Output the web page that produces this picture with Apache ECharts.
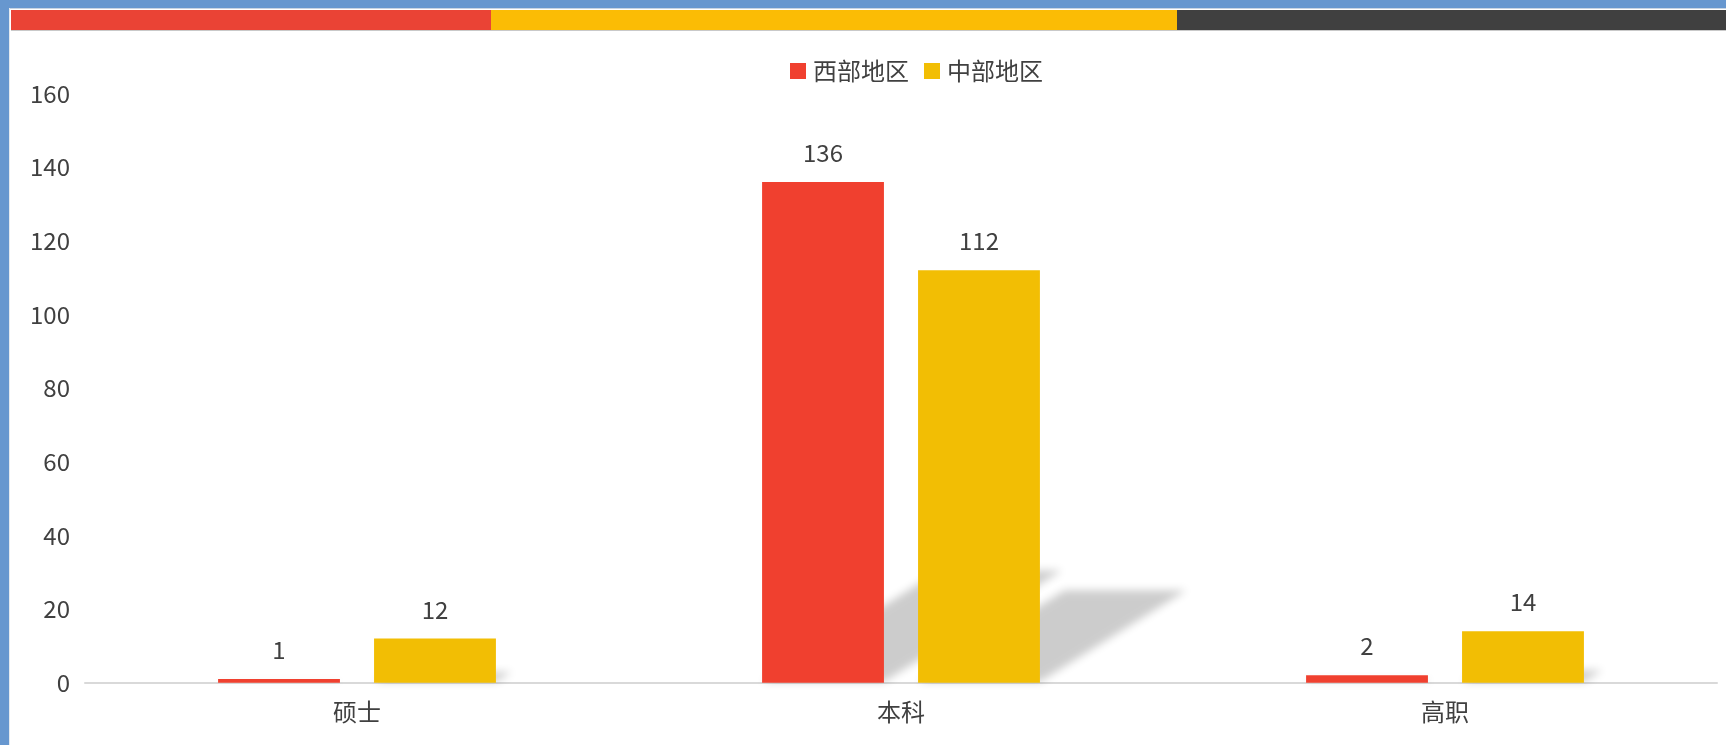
<!DOCTYPE html>
<html>
<head>
<meta charset="utf-8">
<script src="https://cdn.jsdelivr.net/npm/echarts@6/dist/echarts.min.js"></script>
<style>
html,body{margin:0;padding:0;background:#6797cf;}
#chart{width:1726px;height:745px;}
</style>
</head>
<body>
<div id="chart"></div>
<script>
const categories = ['硕士', '本科', '高职'];
const seriesNames = ['西部地区', '中部地区'];
const westValues = [1, 136, 2];
const centralValues = [12, 112, 14];
const yMin = 0, yMax = 160, yInterval = 20;

const FONT = '"Noto Sans CJK SC", "Noto Sans", sans-serif';
const TEXT = '#404040';
const RED = '#F0402F';
const YELLOW = '#F2BE04';
const BAR_W = 0.224, BAR_GAP = 0.28;
const SH_RATIO = 0.222, SH_SKEW = 1.6, OFF = 4000;

const shadowData = [];
[westValues, centralValues].forEach((arr, s) => arr.forEach((v, i) => shadowData.push([i, v, s])));

const chart = echarts.init(document.getElementById('chart'));
chart.setOption({
  animation: false,
  backgroundColor: 'transparent',
  textStyle: { fontFamily: FONT },
  graphic: [
    { type: 'rect', shape: { x: 9, y: 8, width: 1717, height: 737 }, style: { fill: '#ffffff' }, z: -10, silent: true },
    { type: 'rect', shape: { x: 9, y: 8, width: 1717, height: 1 }, style: { fill: '#c8d4e2' }, z: -9, silent: true },
    { type: 'rect', shape: { x: 9, y: 8, width: 1, height: 737 }, style: { fill: '#e4e9ef' }, z: -9, silent: true },
    { type: 'rect', shape: { x: 11, y: 10, width: 480, height: 20 }, style: { fill: '#EA4335' }, z: -8, silent: true },
    { type: 'rect', shape: { x: 491, y: 10, width: 686, height: 20 }, style: { fill: '#FBBC05' }, z: -8, silent: true },
    { type: 'rect', shape: { x: 1177, y: 10, width: 549, height: 20 }, style: { fill: '#404040' }, z: -8, silent: true },
    { type: 'rect', shape: { x: 11, y: 30, width: 1715, height: 1 }, style: { fill: '#c9c9c9' }, z: -8, silent: true }
  ],
  legend: {
    data: seriesNames,
    left: 785,
    top: 54,
    itemWidth: 16,
    itemHeight: 16,
    itemGap: 15,
    icon: 'rect',
    textStyle: { fontSize: 24, color: TEXT, fontFamily: FONT, padding: [0, 0, 0, 2] }
  },
  grid: { left: 85, right: 9, top: 93.5, bottom: 62.3 },
  xAxis: {
    type: 'category',
    data: categories,
    axisLine: { lineStyle: { color: '#d9d9d9', width: 2 } },
    axisTick: { show: false },
    axisLabel: { fontSize: 24, color: TEXT, fontFamily: FONT, margin: 17 }
  },
  yAxis: {
    type: 'value',
    min: yMin, max: yMax, interval: yInterval,
    splitLine: { show: false },
    axisLine: { show: false },
    axisTick: { show: false },
    axisLabel: { fontSize: 24, color: TEXT, fontFamily: FONT, margin: 15 }
  },
  series: [
    {
      type: 'custom',
      silent: true,
      z: 1,
      data: shadowData,
      renderItem: function (params, api) {
        const idx = api.value(0), v = api.value(1), s = api.value(2);
        const top = api.coord([idx, v]);
        const base = api.coord([idx, 0]);
        const band = api.size([1, 0])[0];
        const w = band * BAR_W, gap = w * BAR_GAP;
        const groupW = 2 * w + gap;
        const x0 = top[0] - groupW / 2 + s * (w + gap);
        const H = base[1] - top[1];
        const h = H * SH_RATIO, dx = h * SH_SKEW;
        const b = base[1] - 1;
        return {
          type: 'polygon',
          shape: { points: [[x0 - OFF, b], [x0 + w - OFF, b], [x0 + w + dx - OFF, b - h], [x0 + dx - OFF, b - h]] },
          style: { fill: '#000', shadowBlur: 9, shadowColor: 'rgba(0,0,0,0.2)', shadowOffsetX: OFF, shadowOffsetY: 0 }
        };
      }
    },
    {
      name: seriesNames[0],
      type: 'bar',
      z: 3,
      data: westValues,
      barWidth: (BAR_W * 100) + '%',
      barGap: (BAR_GAP * 100) + '%',
      itemStyle: { color: RED },
      label: { show: true, position: 'top', distance: 17, fontSize: 24, color: TEXT, fontFamily: FONT }
    },
    {
      name: seriesNames[1],
      type: 'bar',
      z: 3,
      data: centralValues,
      barWidth: (BAR_W * 100) + '%',
      barGap: (BAR_GAP * 100) + '%',
      itemStyle: { color: YELLOW },
      label: { show: true, position: 'top', distance: 17, fontSize: 24, color: TEXT, fontFamily: FONT }
    }
  ]
});
</script>
</body>
</html>
